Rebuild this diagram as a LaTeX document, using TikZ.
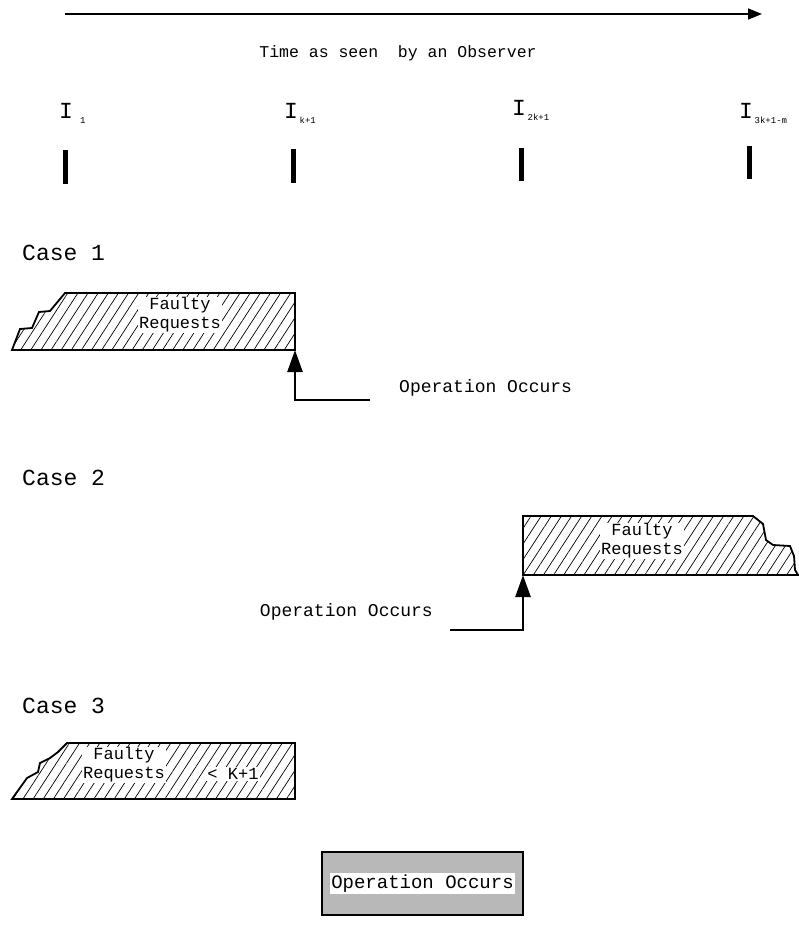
\documentclass[tikz,border=0pt]{standalone}
\usepackage{fontspec}
\setmainfont{Liberation Mono}
\usetikzlibrary{arrows.meta,patterns.meta}
\tikzset{
  hatch/.style={pattern={Lines[angle=57,distance=8.5pt,line width=0.7pt]}},
  outline/.style={line width=1.8pt, line join=miter},
  lbl/.style={fill=white, inner sep=1pt, align=center, font=\fontsize{17}{19}\selectfont},
  casettl/.style={anchor=west, inner sep=0pt, font=\fontsize{23}{25}\selectfont},
  optext/.style={inner sep=0pt, font=\fontsize{18}{20}\selectfont},
  tick/.style={line width=5pt},
  ptr/.style={line width=2.5pt, -{Triangle[length=22pt,width=15pt]}},
  ilbl/.style={inner sep=0pt, anchor=base west}
}
\newcommand{\Ilab}[1]{{\fontsize{23}{23}\selectfont I}\,{\fontsize{9}{9}\selectfont\raisebox{-5pt}{#1}}}
\begin{document}
\begin{tikzpicture}[x=1pt,y=-1pt]
\useasboundingbox (0,0) rectangle (798,928);
% time axis
\coordinate (tstart) at (65,14);
\coordinate (tend) at (762,14);
\draw[line width=1.6pt,-{Triangle[length=14pt,width=11pt]}] (tstart) -- (tend);
\node[inner sep=0pt, font=\fontsize{16.5}{18}\selectfont] (ttl) at (398,53) {Time as seen\ \ by an Observer};
% interval labels
\node[ilbl] (i1) at (59,119) {\Ilab{\ 1}};
\node[ilbl] (i2) at (284,119) {\Ilab{k+1}};
\node[ilbl] (i3) at (512,116) {\Ilab{2k+1}};
\node[ilbl] (i4) at (739,119) {\Ilab{3k+1-m}};
% ticks
\coordinate (t1a) at (65,150); \coordinate (t1b) at (65,184);
\coordinate (t2a) at (293,149); \coordinate (t2b) at (293,183);
\coordinate (t3a) at (521,148); \coordinate (t3b) at (521,181);
\coordinate (t4a) at (749,146); \coordinate (t4b) at (749,179);
\draw[tick] (t1a) -- (t1b);
\draw[tick] (t2a) -- (t2b);
\draw[tick] (t3a) -- (t3b);
\draw[tick] (t4a) -- (t4b);
% Case 1
\node[casettl] (case1) at (22,253) {Case 1};
\draw[outline, hatch] (65,293) -- (295,293) -- (295,350) -- (12,350) -- (20,329) -- (32,328) -- (39,312) -- (50,311) -- cycle;
\coordinate (f1corner) at (295,350);
\node[lbl] (f1) at (180,315) {Faulty\\Requests};
\coordinate (o1tail) at (370,400);
\draw[ptr] (o1tail) -| (f1corner);
\node[optext, anchor=west] (o1) at (399,388) {Operation Occurs};
% Case 2
\node[casettl] (case2) at (22,478) {Case 2};
\draw[outline, hatch] (523,516) -- (753,516) -- (763,524) -- (766,540) -- (773,545) -- (790,546) -- (794,556) -- (795,570) -- (798,575) -- (523,575) -- cycle;
\coordinate (f2corner) at (523,575);
\node[lbl] (f2) at (642,541) {Faulty\\Requests};
\coordinate (o2tail) at (450,630);
\draw[ptr] (o2tail) -| (f2corner);
\node[optext, anchor=east] (o2) at (433,612) {Operation Occurs};
% Case 3
\node[casettl] (case3) at (22,706) {Case 3};
\draw[outline, hatch] (67,743) -- (295,743) -- (295,799) -- (12,799) -- (22,785) -- (27,778) -- (38,772) -- (40,763) -- (50,758) -- (58,752) -- cycle;
\node[lbl] (f3) at (124,765) {Faulty\\Requests};
\node[lbl] (k3) at (233,774) {< K+1};
% operation box
\node[draw, line width=1.5pt, fill=black!28, minimum width=201pt, minimum height=63pt, inner sep=0pt] (opbox) at (422.5,883.5) {};
\node[fill=white, inner sep=1.5pt, font=\fontsize{19}{21}\selectfont] (optxt) at (opbox.center) {Operation Occurs};
\end{tikzpicture}
\end{document}
